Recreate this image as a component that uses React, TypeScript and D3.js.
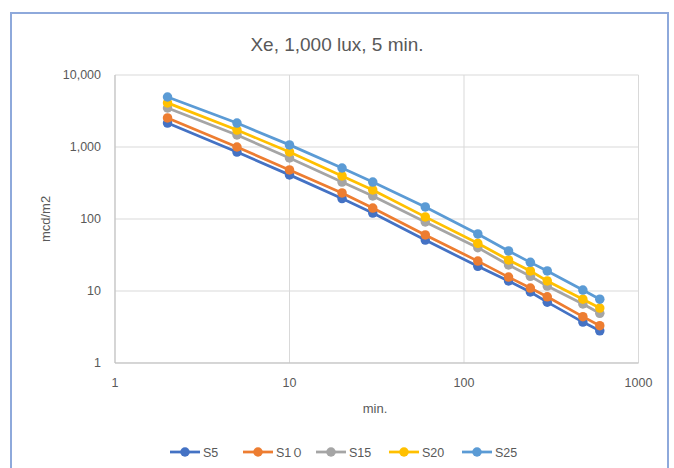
import React from 'react';
import * as d3 from 'd3';

const minutes = [2, 5, 10, 20, 30, 60, 120, 180, 240, 300, 480, 600];

const s5 = [2150, 850, 410, 192, 121, 51, 22, 13.8, 9.7, 7.0, 3.7, 2.8];
const s10 = [2530, 1000, 480, 230, 142, 60, 26, 15.6, 11, 8.3, 4.4, 3.3];
const s15 = [3480, 1470, 705, 326, 209, 91, 40, 23, 16, 11.7, 6.6, 4.9];
const s20 = [4100, 1720, 855, 396, 253, 107, 46, 27, 19, 13.8, 7.7, 5.8];
const s25 = [4950, 2150, 1070, 511, 326, 147, 62, 36, 25, 19, 10.3, 7.7];

const seriesNames = ['S5', 'S1０', 'S15', 'S20', 'S25'];
const seriesColors = ['#4472C4', '#ED7D31', '#A5A5A5', '#FFC000', '#5B9BD5'];
const seriesValues = [s5, s10, s15, s20, s25];

const xTicks = [1, 10, 100, 1000];
const yTicks = [1, 10, 100, 1000, 10000];

const W = 674;
const H = 468;
const font = "'Liberation Sans', Arial, sans-serif";
const textColor = '#595959';

export default function App() {
  const x = d3.scaleLog().domain([1, 1000]).range([115, 638.5]);
  const y = d3.scaleLog().domain([1, 10000]).range([363, 75]);
  const fmt = d3.format(',');

  const line = d3
    .line<number>()
    .x((_, i) => x(minutes[i]))
    .y((d) => y(d));

  // legend layout
  const legendY = 452;
  const legendStep = 73;
  const legendX0 = 170;

  return (
    <svg
      width={W}
      height={H}
      style={{ position: 'absolute', left: 0, top: 0, background: '#fff' }}
      fontFamily={font}
    >
      <rect x={0} y={0} width={W} height={H} fill="#fff" />
      <rect x={11} y={13} width={657} height={470} fill="#fff" stroke="#8EA9DB" strokeWidth={2} />

      <text x={337} y={51} textAnchor="middle" fontSize={19} fill={textColor}>
        Xe, 1,000 lux, 5 min.
      </text>

      {/* gridlines */}
      {yTicks.map((t) => (
        <line key={'gy' + t} x1={x(1)} x2={x(1000)} y1={y(t)} y2={y(t)} stroke="#D9D9D9" strokeWidth={1} />
      ))}
      {xTicks.map((t) => (
        <line key={'gx' + t} x1={x(t)} x2={x(t)} y1={y(1)} y2={y(10000)} stroke="#D9D9D9" strokeWidth={1} />
      ))}
      {/* axes */}
      <line x1={x(1)} x2={x(1)} y1={y(1)} y2={y(10000)} stroke="#BFBFBF" strokeWidth={1} />
      <line x1={x(1)} x2={x(1000)} y1={y(1)} y2={y(1)} stroke="#BFBFBF" strokeWidth={1} />

      {yTicks.map((t) => (
        <text key={'ty' + t} x={101} y={y(t) + 4} textAnchor="end" fontSize={12.5} fill={textColor}>
          {fmt(t)}
        </text>
      ))}
      {xTicks.map((t) => (
        <text key={'tx' + t} x={x(t)} y={387} textAnchor="middle" fontSize={12.5} fill={textColor}>
          {t}
        </text>
      ))}

      <text x={375} y={413} textAnchor="middle" fontSize={13} fill={textColor}>
        min.
      </text>
      <text
        transform={`translate(50, ${y(100)}) rotate(-90)`}
        textAnchor="middle"
        fontSize={13}
        fill={textColor}
      >
        mcd/m2
      </text>

      {/* series */}
      {seriesValues.map((vals, si) => (
        <g key={'s' + si}>
          <path d={line(vals) || ''} fill="none" stroke={seriesColors[si]} strokeWidth={2.75} />
          {vals.map((v, i) => (
            <circle key={i} cx={x(minutes[i])} cy={y(v)} r={4.75} fill={seriesColors[si]} />
          ))}
        </g>
      ))}

      {/* legend */}
      {seriesNames.map((name, i) => {
        const x0 = legendX0 + i * legendStep;
        return (
          <g key={'lg' + name}>
            <line x1={x0} x2={x0 + 30} y1={legendY} y2={legendY} stroke={seriesColors[i]} strokeWidth={2.75} />
            <circle cx={x0 + 15} cy={legendY} r={4.75} fill={seriesColors[i]} />
            <text x={x0 + 33} y={legendY + 4.5} fontSize={12.5} fill={textColor}>
              {name}
            </text>
          </g>
        );
      })}
    </svg>
  );
}
